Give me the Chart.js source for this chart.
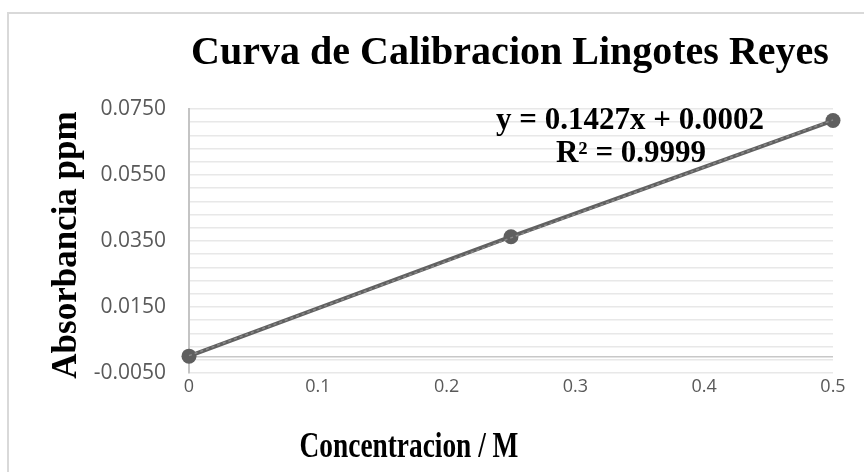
<!DOCTYPE html>
<html>
<head>
<meta charset="utf-8">
<script src="https://cdn.jsdelivr.net/npm/chart.js@4"></script>
<style>
  html, body { margin: 0; padding: 0; background: #fff; overflow: hidden; }
  #wrap { position: relative; width: 864px; height: 472px; }
</style>
</head>
<body>
<div id="wrap"><canvas id="curvaChart"></canvas></div>
<script>
// datos de la curva
const concentracion = [0, 0.25, 0.5];
const absorbancia = [0.0001, 0.0363, 0.0715];

const xTickValues = [0, 0.1, 0.2, 0.3, 0.4, 0.5];
const yLabelValues = [-0.005, 0.015, 0.035, 0.055, 0.075];
const yGridValues = [-0.005, -0.001, 0.003, 0.007, 0.011, 0.015, 0.019, 0.023, 0.027, 0.031,
    0.035, 0.039, 0.043, 0.047, 0.051, 0.055, 0.059, 0.063, 0.067, 0.071, 0.075];

const tituloGrafico = "Curva de Calibracion Lingotes Reyes";
const tituloY = "Absorbancia ppm";
const tituloX = "Concentracion / M";
const ecuacion = ["y = 0.1427x + 0.0002", "R² = 0.9999"];

// linea de tendencia (minimos cuadrados sobre los datos)
function tendencia(xs, ys) {
    const n = xs.length;
    const mx = xs.reduce((a, b) => a + b, 0) / n;
    const my = ys.reduce((a, b) => a + b, 0) / n;
    let sxy = 0, sxx = 0;
    for (let i = 0; i < n; i++) {
        sxy += (xs[i] - mx) * (ys[i] - my);
        sxx += (xs[i] - mx) * (xs[i] - mx);
    }
    const m = sxy / sxx;
    const b = my - m * mx;
    const x0 = xs[0], x1 = xs[n - 1];
    return [{ x: x0, y: m * x0 + b }, { x: x1, y: m * x1 + b }];
}

const serif = "'Liberation Serif', 'Times New Roman', serif";
const sans = "'Open Sans', 'Noto Sans', sans-serif";

const textos = {
    id: "textos",
    beforeDraw(chart) {
        const ctx = chart.ctx;
        ctx.save();
        ctx.strokeStyle = "#d9d9d9";
        ctx.lineWidth = 2;
        ctx.strokeRect(8, 13, 900, 500);
        ctx.restore();
    },
    afterDraw(chart) {
        const ctx = chart.ctx;
        ctx.save();
        ctx.fillStyle = "#000";
        ctx.textAlign = "center";
        ctx.textBaseline = "middle";

        ctx.font = "bold 40px " + serif;
        ctx.fillText(tituloGrafico, 510, 54);

        ctx.save();
        ctx.translate(67, 245);
        ctx.rotate(-Math.PI / 2);
        ctx.font = "bold 35px " + serif;
        ctx.fillText(tituloY, 0, 0);
        ctx.restore();

        ctx.save();
        ctx.translate(409, 448);
        ctx.scale(0.76, 1);
        ctx.font = "bold 36px " + serif;
        ctx.fillText(tituloX, 0, 0);
        ctx.restore();

        ctx.font = "bold 31px " + serif;
        ctx.fillText(ecuacion[0], 630, 121);
        ctx.fillText(ecuacion[1], 631, 154);
        ctx.restore();
    }
};

new Chart(document.getElementById("curvaChart"), {
    type: "line",
    data: {
        datasets: [
            {
                label: "Absorbancia",
                data: concentracion.map((x, i) => ({ x: x, y: absorbancia[i] })),
                borderColor: "#616161",
                backgroundColor: "#5f5f5f",
                borderWidth: 4,
                pointRadius: 7.5,
                pointBorderWidth: 0,
                pointBackgroundColor: "#5f5f5f",
                tension: 0,
                clip: false,
                order: 2,
            },
            {
                label: "Tendencia",
                data: tendencia(concentracion, absorbancia),
                borderColor: "#8a8a8a",
                borderWidth: 1.5,
                borderDash: [3, 3],
                pointRadius: 0,
                clip: false,
                order: 1,
            },
        ],
    },
    options: {
        responsive: true,
        maintainAspectRatio: false,
        animation: false,
        layout: {
            padding: { top: 109, right: 31, bottom: 0, left: 0 },
        },
        plugins: {
            legend: { display: false },
            title: { display: false },
            tooltip: { enabled: false },
        },
        scales: {
            x: {
                type: "linear",
                min: 0,
                max: 0.5,
                afterBuildTicks: (scale) => {
                    scale.ticks = xTickValues.map((v) => ({ value: v }));
                },
                afterFit: (scale) => {
                    scale.height = 99;
                },
                grid: { display: false, drawTicks: false },
                border: { display: false },
                ticks: {
                    autoSkip: false,
                    maxRotation: 0,
                    padding: 3,
                    color: "#595959",
                    font: { family: sans, size: 18 },
                    callback: (v) => String(Math.round(v * 10) / 10),
                },
            },
            y: {
                type: "linear",
                min: -0.005,
                max: 0.075,
                afterBuildTicks: (scale) => {
                    const vals = yGridValues.concat([0]);
                    scale.ticks = vals.map((v) => ({ value: v }));
                },
                afterFit: (scale) => {
                    scale.width = 189;
                },
                grid: {
                    drawTicks: false,
                    lineWidth: 1.5,
                    color: (ctx) => (ctx.tick && ctx.tick.value === 0 ? "#c8c8c8" : "#e8e8e8"),
                },
                border: { display: true, color: "#c4c4c4", width: 2 },
                ticks: {
                    autoSkip: false,
                    padding: 23,
                    color: "#595959",
                    font: { family: sans, size: 21 },
                    callback: (v) =>
                        yLabelValues.some((l) => Math.abs(l - v) < 1e-9) ? v.toFixed(4) : "",
                },
            },
        },
    },
    plugins: [textos],
});
</script>
</body>
</html>
